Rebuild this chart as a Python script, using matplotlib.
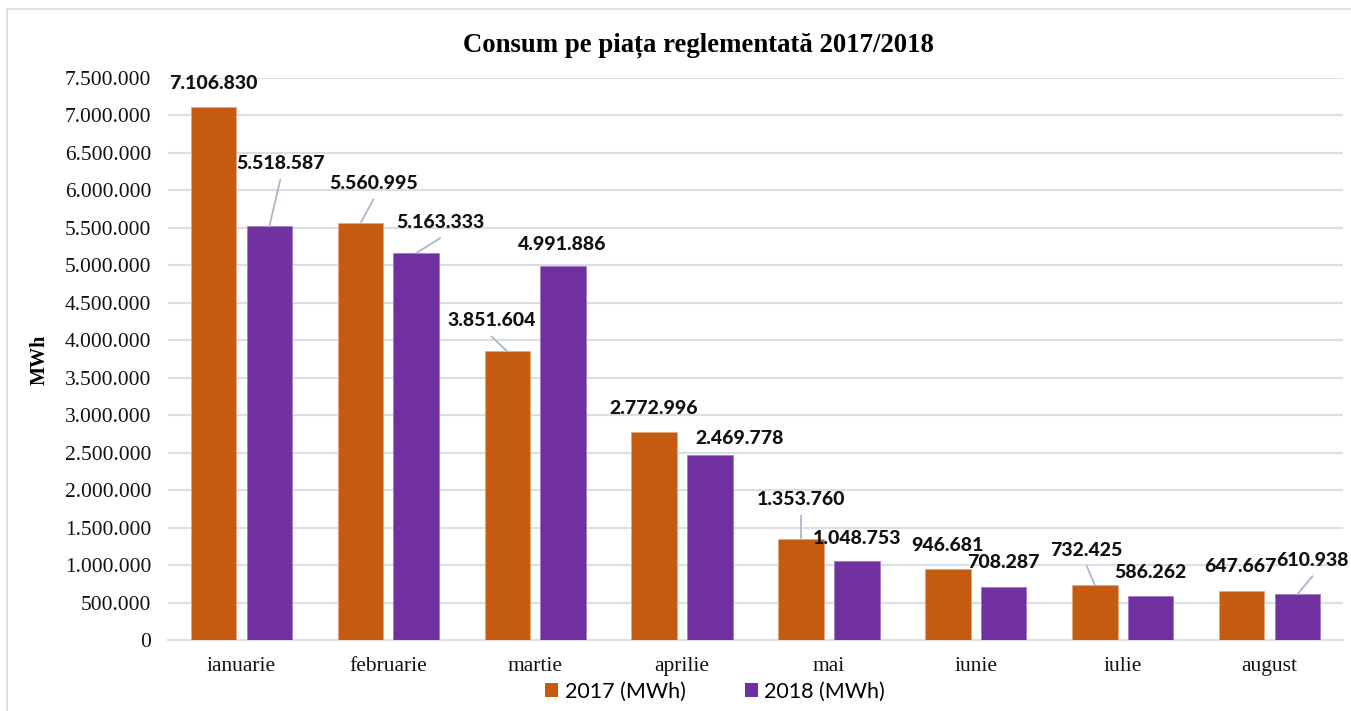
import matplotlib
matplotlib.use("Agg")
import matplotlib.pyplot as plt
from matplotlib.patches import Patch, Rectangle
from matplotlib.ticker import FuncFormatter, MultipleLocator
import numpy as np

months = ["ianuarie", "februarie", "martie", "aprilie", "mai", "iunie", "iulie", "august"]
v2017 = [7106830, 5560995, 3851604, 2772996, 1353760, 946681, 732425, 647667]
v2018 = [5518587, 5163333, 4991886, 2469778, 1048753, 708287, 586262, 610938]
series_names = ["2017 (MWh)", "2018 (MWh)"]
title = "Consum pe piața reglementată 2017/2018"
ylabel = "MWh"

C17 = "#C55A11"
C18 = "#7030A0"
GRID = "#D9DEE7"
LEAD = "#A9B7CB"

# label offsets in pixels (dx, dy) relative to bar top center; dy negative = up
off17 = [(0, -24), (13, -40), (-16, -31), (-1, -24), (0, -39), (0, -24), (-8, -35), (-1, -25)]
off18 = [(11, -63), (24, -31), (-1, -21), (30, -16), (0, -23), (0, -24), (0, -24), (15, -34)]
lead17 = [False, True, True, False, True, False, True, False]
lead18 = [True, True, False, False, False, False, False, True]

W, H = 1351, 711
fig = plt.figure(figsize=(W / 100, H / 100), dpi=100)
ax = fig.add_axes([168 / W, 1 - 640 / H, (1343 - 168) / W, (640 - 78) / H])

x = np.arange(len(months))
bw = 0.31
sh = 0.19
ax.bar(x - sh, v2017, bw, color=C17, edgecolor="#E8A77A", linewidth=0.6, zorder=3)
ax.bar(x + sh, v2018, bw, color=C18, edgecolor="#A57BC4", linewidth=0.6, zorder=3)

ax.set_xlim(-0.5, len(months) - 0.5)
ax.set_ylim(0, 7500000)
ax.yaxis.set_major_locator(MultipleLocator(500000))
ax.yaxis.set_major_formatter(FuncFormatter(lambda v, p: f"{int(v):,}".replace(",", ".")))
ax.grid(axis="y", color=GRID, linewidth=1.5, zorder=0)
for s in ["top", "right", "left"]:
    ax.spines[s].set_visible(False)
ax.spines["bottom"].set_color(GRID)
ax.spines["bottom"].set_linewidth(1.5)
ax.tick_params(axis="both", length=0)
ax.tick_params(axis="y", pad=12)
ax.tick_params(axis="x", pad=12)
ax.set_xticks(x)
ax.set_xticklabels(months)
for lab in ax.get_xticklabels() + ax.get_yticklabels():
    lab.set_fontfamily("Liberation Serif")
    lab.set_fontsize(15.5)
    lab.set_color("#111111")

fig.text(40 / W, 1 - 360 / H, ylabel, rotation=90, ha="center", va="center",
         fontfamily="Liberation Serif", fontweight="bold", fontsize=14.5)
fig.text(698 / W, 1 - 45 / H, title, ha="center", va="center",
         fontfamily="Liberation Serif", fontweight="bold", fontsize=19.3)

def fmt(v):
    return f"{v:,}".replace(",", ".")

def label(xc, v, off, lead):
    dx, dy = off
    ax.annotate(fmt(v), xy=(xc, v), xytext=(dx, -dy), textcoords="offset pixels",
                ha="center", va="center", fontfamily="Lato", fontweight=900,
                fontsize=14, color="#111111", zorder=5)
    if lead:
        ax.annotate("", xy=(xc, v), xytext=(dx, -dy - 16), textcoords="offset pixels",
                    arrowprops=dict(arrowstyle="-", color=LEAD, lw=1.3,
                                    shrinkA=0, shrinkB=0), zorder=4)

for i in range(len(months)):
    label(x[i] - sh, v2017[i], off17[i], lead17[i])
    label(x[i] + sh, v2018[i], off18[i], lead18[i])

handles = [Patch(facecolor=C17), Patch(facecolor=C18)]
fig.legend(handles, series_names, loc="center", bbox_to_anchor=(715 / W, 1 - 692 / H),
           ncol=2, frameon=False, handlelength=0.62, handleheight=0.62, handletextpad=0.3,
           columnspacing=2.75, prop={"family": "Lato", "size": 15.5})

fig.patches.append(Rectangle((7 / W, -0.05), 1.1, 1 - 9 / H + 0.05, transform=fig.transFigure,
                             fill=False, edgecolor="#D9D9D9", linewidth=1.2))

fig.savefig("out.png", dpi=100, facecolor="white")
